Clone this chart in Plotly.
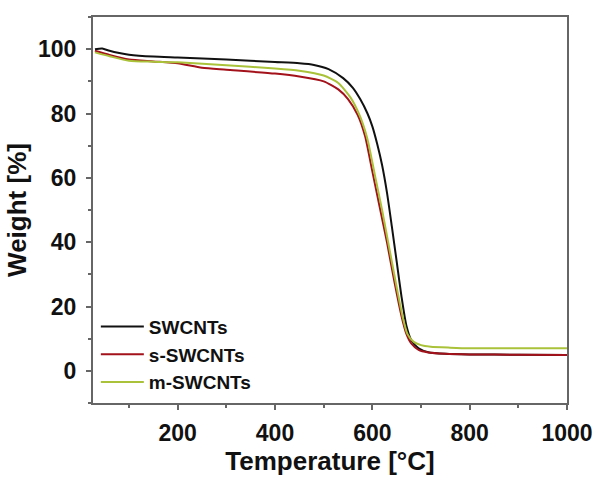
import plotly.graph_objects as go

temp_sw = [30, 45, 60, 80, 100, 150, 200, 300, 400, 450, 480, 510, 540, 560, 575, 590, 600, 610, 620, 630, 640, 650, 660, 670, 680, 695, 715, 750, 800, 900, 1000]
w_sw = [100, 100.2, 99.5, 98.8, 98.3, 97.7, 97.4, 96.8, 96.0, 95.6, 95.1, 93.8, 91.0, 88.0, 84.5, 80.0, 76.0, 70.5, 64.0, 55.5, 45.0, 34.0, 23.0, 14.0, 9.5, 7.0, 5.8, 5.3, 5.1, 5.0, 4.9]

temp_s = [30, 60, 100, 150, 200, 250, 300, 400, 450, 500, 530, 550, 570, 585, 600, 615, 630, 645, 660, 670, 680, 695, 715, 750, 800, 900, 1000]
w_s = [99.5, 98.2, 96.8, 96.2, 95.6, 94.2, 93.6, 92.4, 91.5, 90.0, 87.5, 84.5, 79.5, 73.0, 62.0, 51.0, 40.0, 28.0, 17.0, 11.5, 8.5, 6.5, 5.7, 5.3, 5.1, 5.0, 4.9]

temp_m = [30, 60, 100, 150, 200, 300, 400, 450, 500, 530, 555, 575, 590, 605, 620, 635, 650, 662, 672, 685, 700, 720, 760, 800, 900, 1000]
w_m = [99.0, 97.8, 96.4, 96.1, 95.9, 95.0, 94.0, 93.3, 91.8, 89.5, 85.0, 79.0, 72.0, 61.0, 50.0, 38.0, 26.0, 17.0, 11.5, 9.0, 8.0, 7.5, 7.2, 7.0, 7.0, 7.0]

names = ["SWCNTs", "s-SWCNTs", "m-SWCNTs"]
colors = ["#111111", "#a3121a", "#a9c23a"]

fig = go.Figure()
for t, w, n, c in zip([temp_sw, temp_s, temp_m], [w_sw, w_s, w_m], names, colors):
    fig.add_trace(go.Scatter(x=t, y=w, mode="lines", name=n,
                             line=dict(color=c, width=2, shape="spline", smoothing=0.6)))

font_family = "Liberation Sans, Arial, sans-serif"
axis_common = dict(
    showline=True, linecolor="#666666", linewidth=2, mirror=True,
    ticks="outside", ticklen=5, tickwidth=2, tickcolor="#666666",
    showgrid=False, zeroline=False,
    tickfont=dict(family=font_family, size=23, color="#111111", weight="bold"),
)

fig.update_layout(
    width=605, height=478,
    margin=dict(l=93, r=31, t=17, b=68),
    paper_bgcolor="white", plot_bgcolor="white",
    showlegend=True,
    legend=dict(x=0.006, y=0.247, xanchor="left", yanchor="top",
                itemwidth=43,
                bgcolor="rgba(0,0,0,0)", tracegroupgap=0,
                font=dict(family=font_family, size=19, color="#111111", weight="bold")),
    xaxis=dict(range=[26, 1000], tick0=0, dtick=200, ticklabelstandoff=3,
               minor=dict(ticks="outside", ticklen=3, dtick=100, tickwidth=2, tickcolor="#666666"),
               title=dict(text="Temperature [°C]", standoff=2,
                          font=dict(family=font_family, size=26, color="#111111", weight="bold")),
               **axis_common),
    yaxis=dict(range=[-10, 110], tick0=0, dtick=20, ticklabelstandoff=5,
               minor=dict(ticks="outside", ticklen=3, dtick=10, tickwidth=2, tickcolor="#666666"),
               title=dict(text="Weight [%]", standoff=4,
                          font=dict(family=font_family, size=26, color="#111111", weight="bold")),
               **axis_common),
)

fig.write_html(
    "out.html",
    config={"displayModeBar": False},
    post_script=(
        "document.body.style.margin='0px';"
        "document.body.style.overflow='hidden';"
        "document.documentElement.style.overflow='hidden';"
    ),
)
